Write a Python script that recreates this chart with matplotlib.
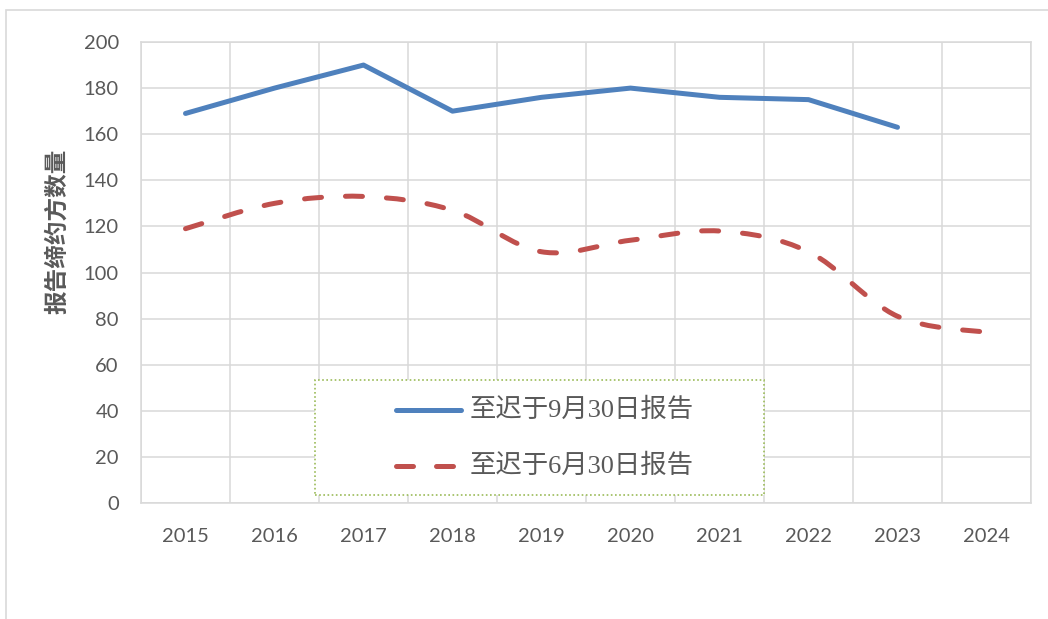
import matplotlib
matplotlib.use("Agg")
import matplotlib.pyplot as plt
import numpy as np
from matplotlib.path import Path
from matplotlib.patches import PathPatch, Rectangle
from matplotlib.lines import Line2D

# ── Data ─────────────────────────────────────────────────────────────────────
years = ["2015", "2016", "2017", "2018", "2019", "2020", "2021", "2022", "2023", "2024"]
sep30 = [169, 180, 190, 170, 176, 180, 176, 175, 163]          # 至迟于9月30日报告
jun30 = [119, 130, 133, 127, 109, 114, 118, 109, 81, 74]       # 至迟于6月30日报告

label_sep = "至迟于9月30日报告"
label_jun = "至迟于6月30日报告"
ylabel = "报告缔约方数量"

BLUE = "#4F81BD"
RED = "#C0504D"
GRID = "#D9D9D9"
TXT = "#595959"
W, H = 1048, 619


def smooth_path(xs, ys):
    # Excel-style smoothed line: cubic Bezier through every point
    pts = np.column_stack([xs, ys]).astype(float)
    n = len(pts)
    verts = [pts[0]]
    codes = [Path.MOVETO]
    for i in range(n - 1):
        p_prev = pts[max(i - 1, 0)]
        p0, p1 = pts[i], pts[i + 1]
        p_next = pts[min(i + 2, n - 1)]
        c1 = p0 + (p1 - p_prev) / 6
        c2 = p1 - (p_next - p0) / 6
        verts += [c1, c2, p1]
        codes += [Path.CURVE4] * 3
    return Path(verts, codes)


fig = plt.figure(figsize=(W / 100, H / 100), dpi=100)
ax = fig.add_axes([141 / W, 1 - 503 / H, (1031 - 141) / W, (503 - 42) / H])

x = np.arange(len(years))
ax.plot(x[:len(sep30)], sep30, color=BLUE, lw=3.6, solid_capstyle="round",
        solid_joinstyle="round", zorder=3)

patch = PathPatch(smooth_path(x[:len(jun30)], jun30), facecolor="none", edgecolor=RED,
                  lw=3.6, linestyle=(0, (3.4, 4.8)), capstyle="round", zorder=3)
ax.add_patch(patch)

ax.set_xlim(-0.5, len(years) - 0.5)
ax.set_ylim(0, 200)
ax.set_yticks(range(0, 201, 20))
ax.set_xticks(x)
ax.set_xticklabels(years)
ax.set_xticks(np.arange(-0.5, len(years)), minor=True)
ax.grid(True, which="major", axis="y", color=GRID, lw=1.1)
ax.grid(True, which="minor", axis="x", color=GRID, lw=1.1)
ax.set_axisbelow(True)
ax.tick_params(which="both", length=0)
ax.tick_params(axis="x", pad=18, labelsize=14.5, labelcolor=TXT)
ax.tick_params(axis="y", pad=16, labelsize=14.5, labelcolor=TXT)
for lab in ax.get_xticklabels() + ax.get_yticklabels():
    lab.set_family("Lato")
for s in ax.spines.values():
    s.set_color(GRID)
    s.set_linewidth(1.1)

fig.text(57 / W, 1 - 231 / H, ylabel, rotation=90, ha="center", va="center",
         fontsize=17, fontweight="heavy", color=TXT, family=["Noto Sans CJK SC"])

# ── Legend box ───────────────────────────────────────────────────────────────
fig.patches.append(Rectangle((315 / W, 1 - 495 / H), (764 - 315) / W, (495 - 380) / H,
                             transform=fig.transFigure, facecolor="white",
                             edgecolor="#9BBB59", lw=1.2, linestyle=(0, (1, 1.5)), zorder=5))
fig.lines.append(Line2D([396 / W, 461 / W], [1 - 410 / H] * 2, transform=fig.transFigure,
                        color=BLUE, lw=3.6, solid_capstyle="round", zorder=6))
fig.lines.append(Line2D([396 / W, 454 / W], [1 - 466 / H] * 2, transform=fig.transFigure,
                        color=RED, lw=3.6, dash_capstyle="round",
                        linestyle=(0, (3.4, 4.6)), zorder=6))
for yy, lab in [(410, label_sep), (466, label_jun)]:
    fig.text(470 / W, 1 - yy / H, lab, ha="left", va="center", fontsize=19, color=TXT,
             family=["Liberation Serif", "Noto Sans CJK SC"], zorder=7)

# ── Outer chart border ───────────────────────────────────────────────────────
fig.patches.append(Rectangle((6 / W, -0.1), 1.2, 1.1 - 10 / H, transform=fig.transFigure,
                             facecolor="none", edgecolor=GRID, lw=1.2, zorder=0))

fig.savefig("out.png", dpi=100)
